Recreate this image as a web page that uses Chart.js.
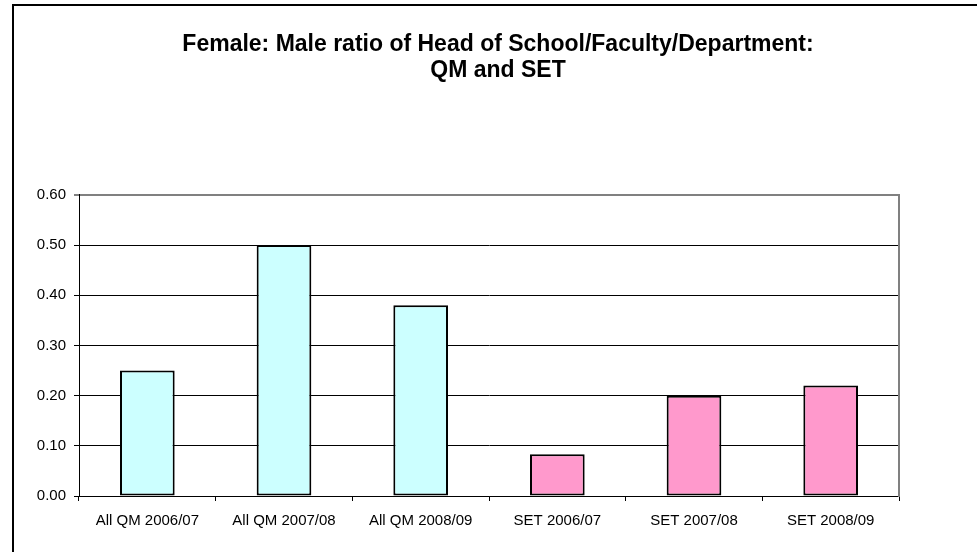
<!DOCTYPE html>
<html>
<head>
<meta charset="utf-8">
<script src="https://cdn.jsdelivr.net/npm/chart.js@4"></script>
<style>
  body { margin: 0; background: #fff; }
  #wrap { position: relative; width: 977px; height: 552px; overflow: hidden; }
  #frame { position: absolute; left: 12px; top: 4px; width: 1000px; height: 600px;
           border-left: 2px solid #000; border-top: 2px solid #000; pointer-events: none; }
  canvas { position: absolute; left: 0; top: 0; }
</style>
</head>
<body>
<div id="wrap">
  <canvas id="chart" width="977" height="552"></canvas>
  <div id="frame"></div>
</div>
<script>
// chart data
const categories = ['All QM 2006/07', 'All QM 2007/08', 'All QM 2008/09', 'SET 2006/07', 'SET 2007/08', 'SET 2008/09'];
const ratios = [0.25, 0.50, 0.38, 0.083, 0.20, 0.22];
const titleLines = ['Female: Male ratio of Head of School/Faculty/Department:', 'QM and SET'];
const yMin = 0;
const yMax = 0.6;
const yStep = 0.1;

// styling
const barColors = ['#CCFFFF', '#CCFFFF', '#CCFFFF', '#FF99CC', '#FF99CC', '#FF99CC'];
const fontFamily = 'Arial, "Liberation Sans", sans-serif';

const isTop = ctx => ctx.tick && ctx.tick.value >= yMax - 1e-9;

new Chart(document.getElementById('chart'), {
    type: 'bar',
    data: {
        labels: categories,
        datasets: [{
            data: ratios,
            backgroundColor: barColors,
            borderColor: '#000',
            borderWidth: 2,
            borderSkipped: false,
            categoryPercentage: 1,
            barPercentage: 0.4
        }]
    },
    options: {
        responsive: false,
        animation: false,
        layout: { padding: { left: 19, right: 0, top: 0, bottom: 0 } },
        plugins: {
            legend: { display: false },
            tooltip: { enabled: false },
            title: {
                display: true,
                text: titleLines,
                color: '#000',
                font: { family: fontFamily, size: 23, weight: 'bold', lineHeight: 1.15 },
                padding: { top: 31, bottom: 111 }
            }
        },
        scales: {
            x: {
                afterFit: s => { s.height = 56; },
                grid: {
                    offset: true,
                    drawOnChartArea: false,
                    color: '#000',
                    tickLength: 5
                },
                border: { color: '#000', width: 1 },
                ticks: {
                    color: '#000',
                    padding: 11,
                    maxRotation: 0,
                    font: { family: fontFamily, size: 15 }
                }
            },
            y: {
                min: yMin,
                max: yMax,
                afterFit: s => { s.width = 60; },
                grid: {
                    color: ctx => isTop(ctx) ? '#808080' : '#000',
                    lineWidth: ctx => isTop(ctx) ? 2 : 1,
                    tickLength: 5
                },
                border: { color: '#000', width: 1 },
                ticks: {
                    stepSize: yStep,
                    color: '#000',
                    padding: 8,
                    font: { family: fontFamily, size: 15 },
                    callback: v => Number(v).toFixed(2)
                }
            },
            // empty right axis: keeps the right margin and draws the grey plot edge
            yRight: {
                type: 'linear',
                position: 'right',
                display: true,
                afterFit: s => { s.width = 78; },
                grid: { display: false },
                ticks: { display: false },
                border: { color: '#808080', width: 2 }
            }
        }
    }
});
</script>
</body>
</html>
